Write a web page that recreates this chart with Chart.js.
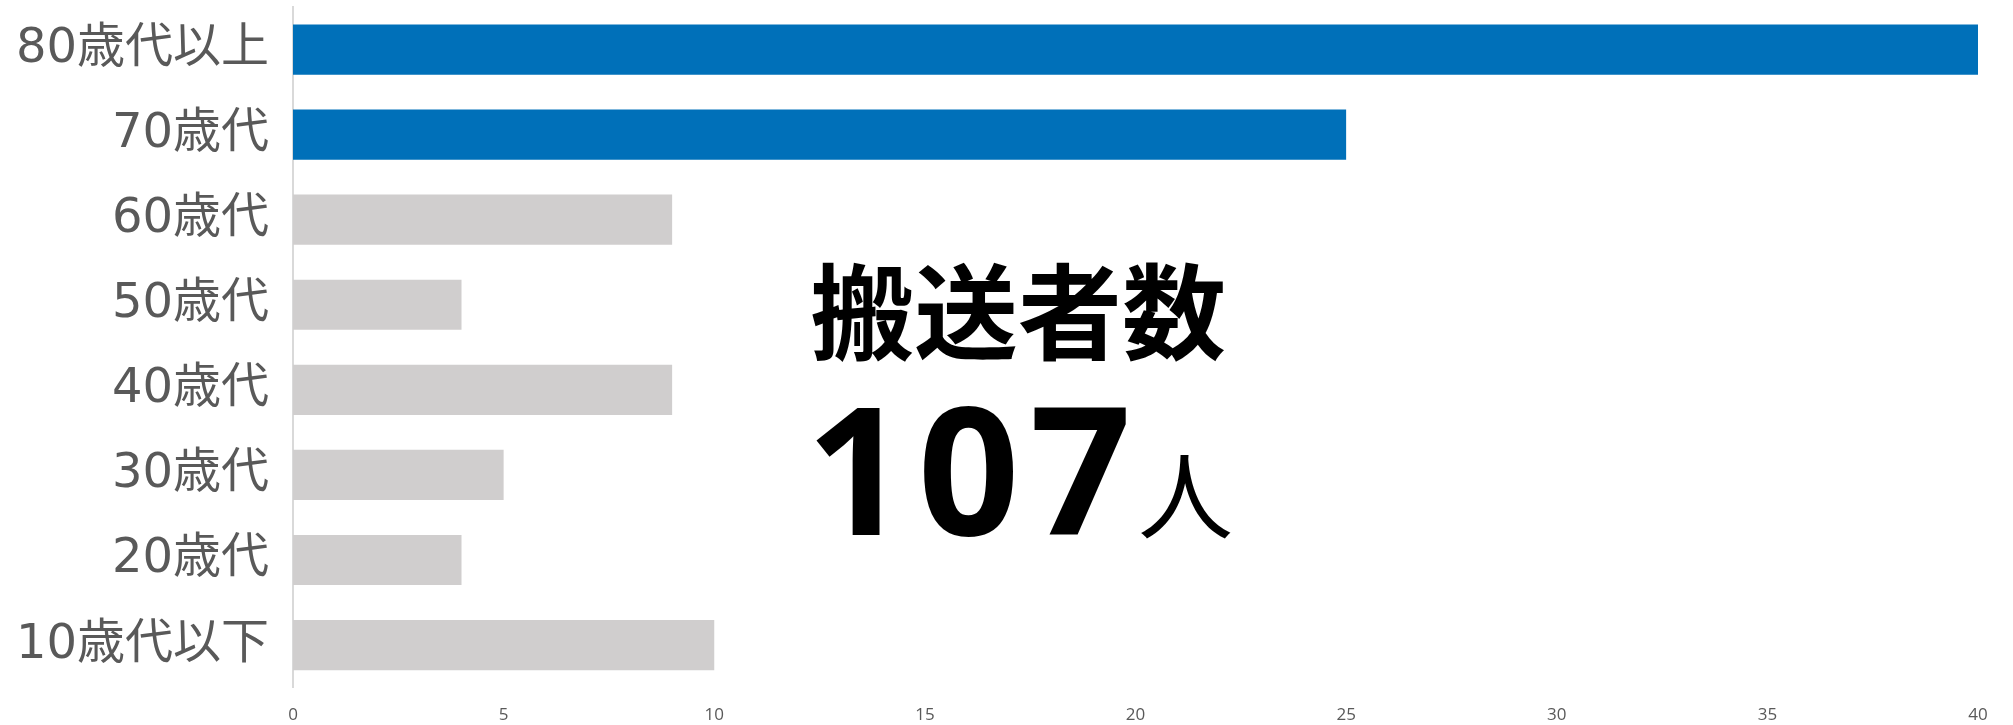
<!DOCTYPE html>
<html>
<head>
<meta charset="utf-8">
<script src="https://cdn.jsdelivr.net/npm/chart.js@4.4.1/dist/chart.umd.min.js"></script>
<style>
  html, body { margin: 0; padding: 0; background: #fff; }
  #wrap { width: 2013px; height: 725px; }
</style>
</head>
<body>
<div id="wrap"><canvas id="myChart"></canvas></div>
<script>
// 年代別 搬送者数
const ages = ["80歳代以上", "70歳代", "60歳代", "50歳代", "40歳代", "30歳代", "20歳代", "10歳代以下"];
const counts = [40, 25, 9, 4, 9, 5, 4, 10];
const barColors = ["#0070B9", "#0070B9", "#D0CECE", "#D0CECE", "#D0CECE", "#D0CECE", "#D0CECE", "#D0CECE"];
const xTicks = [0, 5, 10, 15, 20, 25, 30, 35, 40];
const totalLabel = "搬送者数";
const totalValue = "107";
const totalUnit = "人";

// 中央の大きい文字
const totalText = {
  id: "totalText",
  afterDraw(chart) {
    const ctx = chart.ctx;
    ctx.save();
    ctx.fillStyle = "#000";
    ctx.textAlign = "left";
    ctx.textBaseline = "alphabetic";
    ctx.font = "bold 104px 'Noto Sans CJK JP'";
    ctx.fillText(totalLabel, 810, 352);
    ctx.font = "bold 178px 'Noto Sans', 'Noto Sans CJK JP'";
    ctx.letterSpacing = "10px";
    ctx.fillText(totalValue, 806, 535);
    ctx.letterSpacing = "0px";
    ctx.font = "normal 95px 'Noto Sans CJK JP'";
    ctx.fillText(totalUnit, 1138, 532);
    ctx.restore();
  }
};

const el = document.getElementById("myChart");

new Chart(el, {
  type: "bar",
  data: {
    labels: ages,
    datasets: [
      {
        label: "搬送者数",
        data: counts,
        backgroundColor: barColors,
        borderWidth: 0,
        barPercentage: 0.59,
        categoryPercentage: 1,
      },
    ],
  },
  options: {
    indexAxis: "y",
    responsive: true,
    maintainAspectRatio: false,
    animation: false,
    layout: {
      padding: { top: 7, right: 35, bottom: 0, left: 0 },
    },
    scales: {
      x: {
        min: 0,
        max: 40,
        afterBuildTicks: (scale) => {
          scale.ticks = xTicks.map((v) => ({ value: v }));
        },
        grid: { display: false, drawTicks: true, tickLength: 17 },
        border: { display: false },
        ticks: {
          color: "#595959",
          padding: 0,
          maxRotation: 0,
          font: { size: 17, family: "'Open Sans', 'Liberation Sans'" },
        },
      },
      y: {
        afterFit: (scale) => {
          scale.width = 293;
        },
        grid: { display: false, drawTicks: true, tickLength: 24 },
        border: { display: true, color: "#D9D9D9", width: 2 },
        ticks: {
          color: "#595959",
          padding: 0,
          font: { size: 48, family: "'DejaVu Sans', 'Noto Sans CJK JP'", lineHeight: 0.05 },
        },
      },
    },
    plugins: {
      legend: { display: false },
      tooltip: { enabled: false },
    },
  },
  plugins: [totalText],
});
</script>
</body>
</html>
